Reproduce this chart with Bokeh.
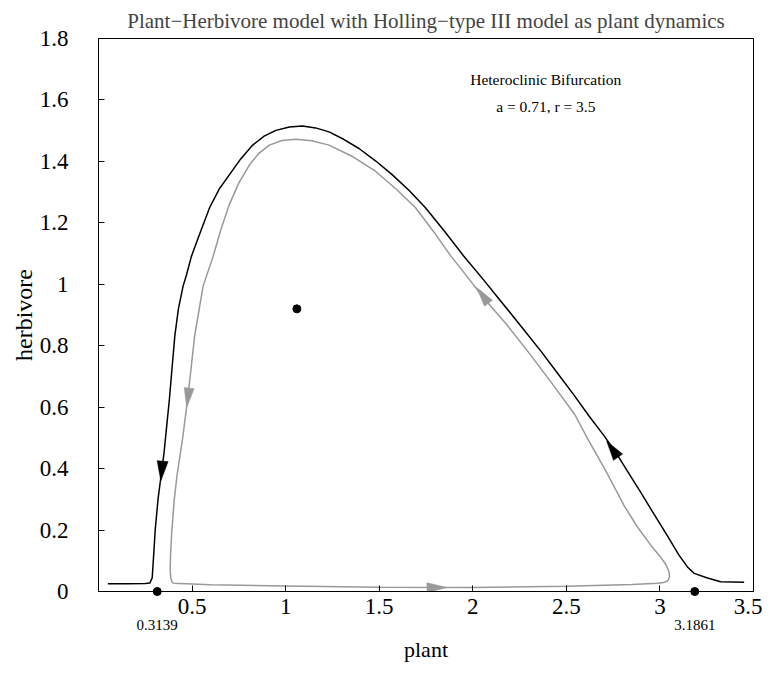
import math
from bokeh.plotting import figure
from bokeh.models import Range1d, LinearAxis, FixedTicker, Label, PrintfTickFormatter
from bokeh.embed import file_html
from bokeh.resources import INLINE

TITLE = "Plant\u2212Herbivore model with Holling\u2212type III model as plant dynamics"
X_LABEL = "plant"
Y_LABEL = "herbivore"
NOTE_1 = "Heteroclinic Bifurcation"
NOTE_2 = "a = 0.71, r = 3.5"

x_ticks = [0.5, 1, 1.5, 2, 2.5, 3, 3.5]
y_ticks = [0, 0.2, 0.4, 0.6, 0.8, 1, 1.2, 1.4, 1.6, 1.8]
saddle_ticks = [0.3139, 3.1861]

# heteroclinic orbits (black)
black_x = [0.05, 0.15, 0.25, 0.275, 0.287, 0.295, 0.303, 0.318, 0.335, 0.35, 0.363, 0.378,
           0.392, 0.408, 0.427, 0.452, 0.47, 0.496, 0.535, 0.594, 0.645, 0.70, 0.76, 0.824,
           0.885, 0.948, 1.02, 1.09, 1.16, 1.232, 1.31, 1.392, 1.48, 1.569, 1.66, 1.746,
           1.85, 1.95, 2.05, 2.15, 2.26, 2.367, 2.45, 2.54, 2.62, 2.704, 2.77, 2.828, 2.90,
           2.97, 3.041, 3.10, 3.147, 3.183, 3.25, 3.324, 3.45]
black_y = [0.025, 0.025, 0.026, 0.028, 0.045, 0.12, 0.2, 0.3, 0.38, 0.45, 0.53, 0.62,
           0.72, 0.833, 0.92, 0.994, 1.03, 1.09, 1.155, 1.25, 1.31, 1.357, 1.408, 1.453,
           1.482, 1.501, 1.512, 1.515, 1.509, 1.496, 1.472, 1.442, 1.402, 1.357, 1.305,
           1.25, 1.172, 1.093, 1.02, 0.945, 0.862, 0.78, 0.713, 0.64, 0.572, 0.505, 0.447,
           0.39, 0.32, 0.25, 0.18, 0.12, 0.08, 0.059, 0.045, 0.032, 0.030]

# periodic orbit close to the cycle (gray)
gray_x = [0.40, 0.6, 1.0, 1.5, 2.0, 2.5, 2.85, 2.988, 3.02, 3.042, 3.052, 3.048, 3.032,
          3.00, 2.952, 2.88, 2.81, 2.713, 2.62, 2.544, 2.42, 2.296, 2.18, 2.057, 1.97,
          1.879, 1.79, 1.693, 1.59, 1.48, 1.36, 1.232, 1.14, 1.055, 0.98, 0.913, 0.86,
          0.807, 0.75, 0.70, 0.655, 0.612, 0.559, 0.514, 0.479, 0.45, 0.42, 0.405, 0.392,
          0.385, 0.383, 0.386, 0.392, 0.40]
gray_y = [0.027, 0.022, 0.018, 0.014, 0.013, 0.017, 0.023, 0.027, 0.029, 0.035, 0.048,
          0.065, 0.088, 0.115, 0.15, 0.21, 0.278, 0.39, 0.49, 0.577, 0.68, 0.78, 0.87,
          0.956, 1.025, 1.095, 1.172, 1.25, 1.31, 1.368, 1.415, 1.453, 1.467, 1.472, 1.468,
          1.453, 1.428, 1.389, 1.33, 1.261, 1.18, 1.09, 0.994, 0.833, 0.64, 0.5, 0.38, 0.3,
          0.2, 0.12, 0.07, 0.045, 0.032, 0.027]

# arrow heads: tip points and a point behind them (direction of flow)
black_arrow_tip_x = [0.333, 2.715]
black_arrow_tip_y = [0.36, 0.49]
black_arrow_from_x = [0.345, 2.79]
black_arrow_from_y = [0.44, 0.425]
gray_arrow_tip_x = [0.471, 1.862, 2.02]
gray_arrow_tip_y = [0.598, 0.013, 0.99]
gray_arrow_from_x = [0.485, 1.746, 2.10]
gray_arrow_from_y = [0.665, 0.0125, 0.925]

# equilibria
eq_x = [0.3139, 3.1861, 1.06]
eq_y = [0.0, 0.0, 0.92]

NOTE_X = 2.39
NOTE_Y = [1.668, 1.578]

X0, X1, Y0, Y1 = 0, 3.5, 0, 1.8

W, H = 762, 678
BL, BR, BT, BB = 98, 9, 34, 87
FW, FH = W - BL - BR, H - BT - BB
PX, PY = FW / (X1 - X0), FH / (Y1 - Y0)

SERIF = "Liberation Serif"

p = figure(width=W, height=H, output_backend="svg", toolbar_location=None,
           x_range=Range1d(X0, X1), y_range=Range1d(Y0, Y1),
           min_border_left=BL, min_border_right=BR, min_border_top=BT, min_border_bottom=BB,
           background_fill_color="white", border_fill_color="white")
p.grid.visible = False
p.outline_line_color = "black"
p.outline_line_width = 1
p.outline_line_alpha = 1

p.title.text = TITLE
p.title.text_font = SERIF
p.title.text_font_size = "21px"
p.title.text_font_style = "normal"
p.title.align = "center"
p.title.standoff = 12

for ax in (p.xaxis[0], p.yaxis[0]):
    ax.axis_line_color = "black"
    ax.major_tick_line_color = "black"
    ax.minor_tick_line_color = None
    ax.major_tick_in = 6
    ax.major_tick_out = 0
    ax.major_label_text_font = SERIF
    ax.major_label_text_font_size = "23px"
    ax.major_label_text_color = "black"
    ax.axis_label_text_font = SERIF
    ax.axis_label_text_font_size = "24px"
    ax.axis_label_text_font_style = "normal"
    ax.axis_label_text_color = "black"

p.xaxis[0].ticker = FixedTicker(ticks=x_ticks)
p.xaxis[0].major_label_overrides = {1: "1", 2: "2", 3: "3"}
p.xaxis[0].major_label_standoff = 7

p.yaxis[0].ticker = FixedTicker(ticks=y_ticks)
p.yaxis[0].major_label_overrides = {0: "0", 1: "1"}
p.yaxis[0].major_label_standoff = 30
p.yaxis[0].axis_label = Y_LABEL
p.yaxis[0].axis_label_standoff = 0

sad_axis = LinearAxis(ticker=FixedTicker(ticks=saddle_ticks),
                      formatter=PrintfTickFormatter(format="%.4f"),
                      axis_line_color=None, major_tick_line_color=None,
                      minor_tick_line_color=None, major_tick_in=0, major_tick_out=0,
                      major_label_standoff=3,
                      major_label_text_font=SERIF, major_label_text_font_size="15px",
                      major_label_text_color="black",
                      axis_label=X_LABEL, axis_label_standoff=4,
                      axis_label_text_font=SERIF, axis_label_text_font_size="22px",
                      axis_label_text_font_style="normal", axis_label_text_color="black")
p.add_layout(sad_axis, "below")

p.line(black_x, black_y, line_color="black", line_width=1.5)
p.line(gray_x, gray_y, line_color="#999999", line_width=1.5)


def heads(tx, ty, fx, fy, length, width):
    xs, ys = [], []
    for a, b, c, d in zip(tx, ty, fx, fy):
        dxp, dyp = (a - c) * PX, (b - d) * PY
        n = math.hypot(dxp, dyp)
        ux, uy = dxp / n, dyp / n
        bx, by = a * PX - length * ux, b * PY - length * uy
        nx, ny = -uy, ux
        xs.append([a, (bx + width / 2 * nx) / PX, (bx - width / 2 * nx) / PX])
        ys.append([b, (by + width / 2 * ny) / PY, (by - width / 2 * ny) / PY])
    return xs, ys


bxs, bys = heads(black_arrow_tip_x, black_arrow_tip_y, black_arrow_from_x, black_arrow_from_y, 20, 11)
gxs, gys = heads(gray_arrow_tip_x, gray_arrow_tip_y, gray_arrow_from_x, gray_arrow_from_y, 20, 10)
p.patches(bxs, bys, fill_color="black", line_color="black", line_width=0.5)
p.patches(gxs, gys, fill_color="#999999", line_color="#999999", line_width=0.5)

p.scatter(eq_x, eq_y, size=8, fill_color="black", line_color="black", level="overlay")

for ny, txt in zip(NOTE_Y, [NOTE_1, NOTE_2]):
    p.add_layout(Label(x=NOTE_X, y=ny, text=txt, text_align="center", text_baseline="middle",
                       text_font=SERIF, text_font_size="15.5px", text_color="black"))

open("out.html", "w").write(file_html(p, INLINE))
